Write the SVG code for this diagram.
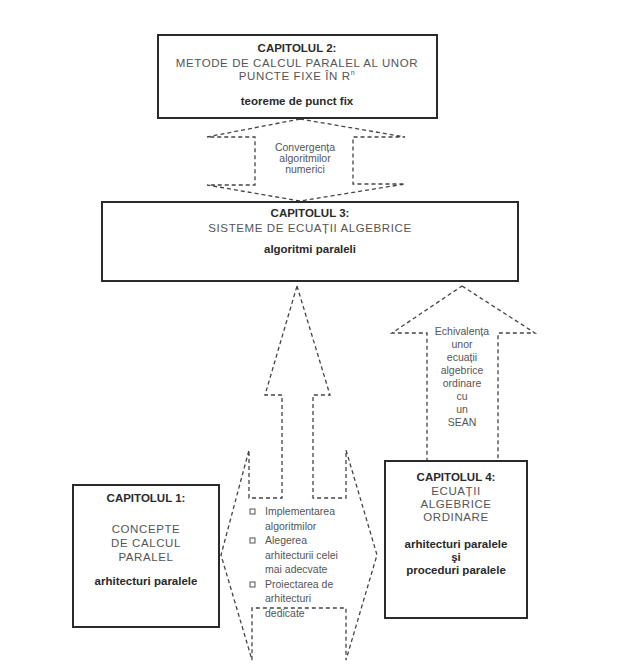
<svg xmlns="http://www.w3.org/2000/svg" width="619" height="664" viewBox="0 0 619 664">
<style>
.box{fill:#fff;stroke:#2a2a2a;stroke-width:2}
.dash{fill:none;stroke:#444;stroke-width:1.3;stroke-dasharray:4 3}
text{font-family:"Liberation Sans",Arial,sans-serif;text-anchor:middle}
.h{font-size:11.5px;font-weight:bold;fill:#2a2a2a}
.t{font-size:11.5px;fill:#555;letter-spacing:0.6px}
.s{font-size:10.5px;fill:#555}
.l{font-size:10.5px;fill:#555;text-anchor:start}
.bul{fill:none;stroke:#555;stroke-width:1}
</style>
<rect width="619" height="664" fill="#fff"/>
<g id="connectors">
<path class="dash" d="M300,119 L405,137 L353,137 L353,184 L405,184 L300,201 L207,185 L255,185 L255,137 L207,137 Z"/>
<path class="dash" d="M297,286 L330,395 L313,395 L313,498 L346,498 L346,450 L377,555 L346,660 L346,608 L252,608 L252,660 L221,555 L249,450 L249,498 L282,498 L282,395 L265,395 Z"/>
<path class="dash" d="M462,286 L535,333 L498,333 L498,461 L427,461 L427,333 L392,333 Z"/>
</g>
<g id="ch2">
<rect class="box" x="158" y="35" width="279" height="83"/>
<text class="h" x="297" y="52">CAPITOLUL 2:</text>
<text class="t" x="297" y="67">METODE DE CALCUL PARALEL AL UNOR</text>
<text class="t" x="297" y="80">PUNCTE FIXE ÎN R<tspan font-size="7" dy="-5">n</tspan></text>
<text class="h" x="297" y="105">teoreme de punct fix</text>
</g>
<g id="conv-label">
<text class="s" x="305" y="151">Convergența</text>
<text class="s" x="305" y="162">algoritmilor</text>
<text class="s" x="305" y="173">numerici</text>
</g>
<g id="ch3">
<rect class="box" x="102" y="202" width="416" height="79"/>
<text class="h" x="310" y="217">CAPITOLUL 3:</text>
<text class="t" x="310" y="232">SISTEME DE ECUAȚII ALGEBRICE</text>
<text class="h" x="310" y="253">algoritmi paraleli</text>
</g>
<g id="echiv-label">
<text class="s" x="462" y="335">Echivalența</text>
<text class="s" x="462" y="348">unor</text>
<text class="s" x="462" y="361">ecuații</text>
<text class="s" x="462" y="374">algebrice</text>
<text class="s" x="462" y="387">ordinare</text>
<text class="s" x="462" y="400">cu</text>
<text class="s" x="462" y="413">un</text>
<text class="s" x="462" y="426">SEAN</text>
</g>
<g id="ch1">
<rect class="box" x="73" y="485" width="146" height="142"/>
<text class="h" x="146" y="502">CAPITOLUL 1:</text>
<text class="t" x="146" y="533">CONCEPTE</text>
<text class="t" x="146" y="547">DE CALCUL</text>
<text class="t" x="146" y="561">PARALEL</text>
<text class="h" x="146" y="585">arhitecturi paralele</text>
</g>
<g id="ch4">
<rect class="box" x="385" y="461" width="142" height="157"/>
<text class="h" x="456" y="481">CAPITOLUL 4:</text>
<text class="t" x="456" y="495">ECUAȚII</text>
<text class="t" x="456" y="508">ALGEBRICE</text>
<text class="t" x="456" y="521">ORDINARE</text>
<text class="h" x="456" y="548">arhitecturi paralele</text>
<text class="h" x="456" y="561">şi</text>
<text class="h" x="456" y="574">proceduri paralele</text>
</g>
<g id="impl-label">
<rect class="bul" x="250" y="509" width="5" height="5"/>
<rect class="bul" x="250" y="538" width="5" height="5"/>
<rect class="bul" x="250" y="582" width="5" height="5"/>
<text class="l" x="265" y="515">Implementarea</text>
<text class="l" x="265" y="530">algoritmilor</text>
<text class="l" x="265" y="544">Alegerea</text>
<text class="l" x="265" y="559">arhitecturii  celei</text>
<text class="l" x="265" y="573">mai adecvate</text>
<text class="l" x="265" y="588">Proiectarea de</text>
<text class="l" x="265" y="602">arhitecturi</text>
<text class="l" x="265" y="617">dedicate</text>
</g>
</svg>
